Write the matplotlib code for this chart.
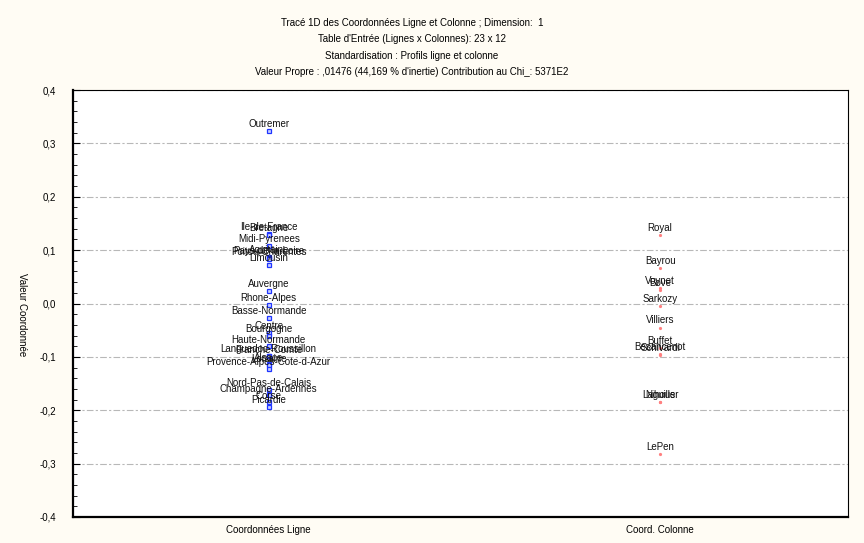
import matplotlib.pyplot as plt
from matplotlib.ticker import MultipleLocator, FuncFormatter

plt.rcParams['font.family'] = ['Liberation Sans Narrow', 'Liberation Sans', 'DejaVu Sans']

# coordonnées des lignes (régions)
regions = ['Outremer', 'Ile-de-France', 'Bretagne', 'Midi-Pyrenees', 'Aquitaine',
           'Pays-de-la-Loire', 'Poitou-Charentes', 'Limousin', 'Auvergne', 'Rhone-Alpes',
           'Basse-Normande', 'Centre', 'Bourgogne', 'Haute-Normande',
           'Languedoc-Roussillon', 'Franche-Comte', 'Alsace', 'Lorraine',
           'Provence-Alpes-Cote-d-Azur', 'Nord-Pas-de-Calais', 'Champagne-Ardennes',
           'Corse', 'Picardie']
regions_val = [0.323, 0.131, 0.129, 0.108, 0.087, 0.085, 0.084, 0.072, 0.024, -0.003,
               -0.027, -0.055, -0.060, -0.080, -0.098, -0.099, -0.114, -0.116,
               -0.123, -0.162, -0.172, -0.185, -0.194]

# coordonnées des colonnes (candidats)
candidats = ['Royal', 'Bayrou', 'Voynet', 'Bove', 'Sarkozy', 'Villiers', 'Buffet',
             'Besancenot', 'Schivardi', 'Laguiller', 'Nihous', 'LePen']
candidats_val = [0.129, 0.066, 0.029, 0.025, -0.004, -0.045, -0.083,
                 -0.094, -0.097, -0.184, -0.185, -0.282]

groupes = ['Coordonnées Ligne', 'Coord. Colonne']

titre = ['Tracé 1D des Coordonnées Ligne et Colonne ; Dimension:  1',
         "Table d'Entrée (Lignes x Colonnes): 23 x 12",
         'Standardisation : Profils ligne et colonne',
         "Valeur Propre : ,01476 (44,169 % d'inertie) Contribution au Chi_: 5371E2"]

fig = plt.figure(figsize=(8.64, 5.43), dpi=100, facecolor='#fffcf4')
ax = fig.add_axes([73 / 864, 1 - 517 / 543, 775 / 864, 427 / 543])
ax.set_facecolor('white')

x1 = [1] * len(regions_val)
x2 = [2] * len(candidats_val)
ax.plot(x1, regions_val, ls='none', marker='s', ms=3.2, mfc='#c8d0ff', mec='#1f35ff', mew=0.9, zorder=3)
ax.plot(x2, candidats_val, ls='none', marker='o', ms=1.3, mfc='#ff8080', mec='#ff8080', zorder=3)

for v, t in zip(regions_val, regions):
    ax.annotate(t, (1, v), xytext=(0, 1.2), textcoords='offset points',
                ha='center', va='bottom', fontsize=7, color='#111111')
for v, t in zip(candidats_val, candidats):
    ax.annotate(t, (2, v), xytext=(0, 1.5), textcoords='offset points',
                ha='center', va='bottom', fontsize=7, color='#111111')

ax.set_xlim(0.5, 2.48)
ax.set_ylim(-0.4, 0.4)
ax.set_xticks([1, 2])
ax.set_xticklabels(groupes, fontsize=7)
ax.yaxis.set_major_locator(MultipleLocator(0.1))
ax.yaxis.set_minor_locator(MultipleLocator(0.02))
ax.yaxis.set_major_formatter(FuncFormatter(lambda v, p: ('%.1f' % v).replace('.', ',').replace('-0,0', '0,0')))
ax.tick_params(axis='y', which='major', direction='in', length=5, width=0.8, pad=12, labelsize=7)
ax.tick_params(axis='y', which='minor', direction='in', length=3, width=0.6)
ax.tick_params(axis='x', direction='in', length=0, pad=6)

ax.grid(axis='y', color='#b8b8b8', lw=0.8, ls=(0, (6, 2, 2, 2)))
for s in ['left', 'bottom']:
    ax.spines[s].set_linewidth(1.6)
for s in ['top', 'right']:
    ax.spines[s].set_linewidth(0.8)

for i, ligne in enumerate(titre):
    fig.text(412 / 864, 1 - (23 + 16.3 * i) / 543, ligne, ha='center', va='center', fontsize=7)

fig.text(22 / 864, 1 - 315 / 543, 'Valeur Coordonnée', rotation=270, ha='center', va='center', fontsize=7)

fig.savefig('out.png', dpi=100, facecolor=fig.get_facecolor())
